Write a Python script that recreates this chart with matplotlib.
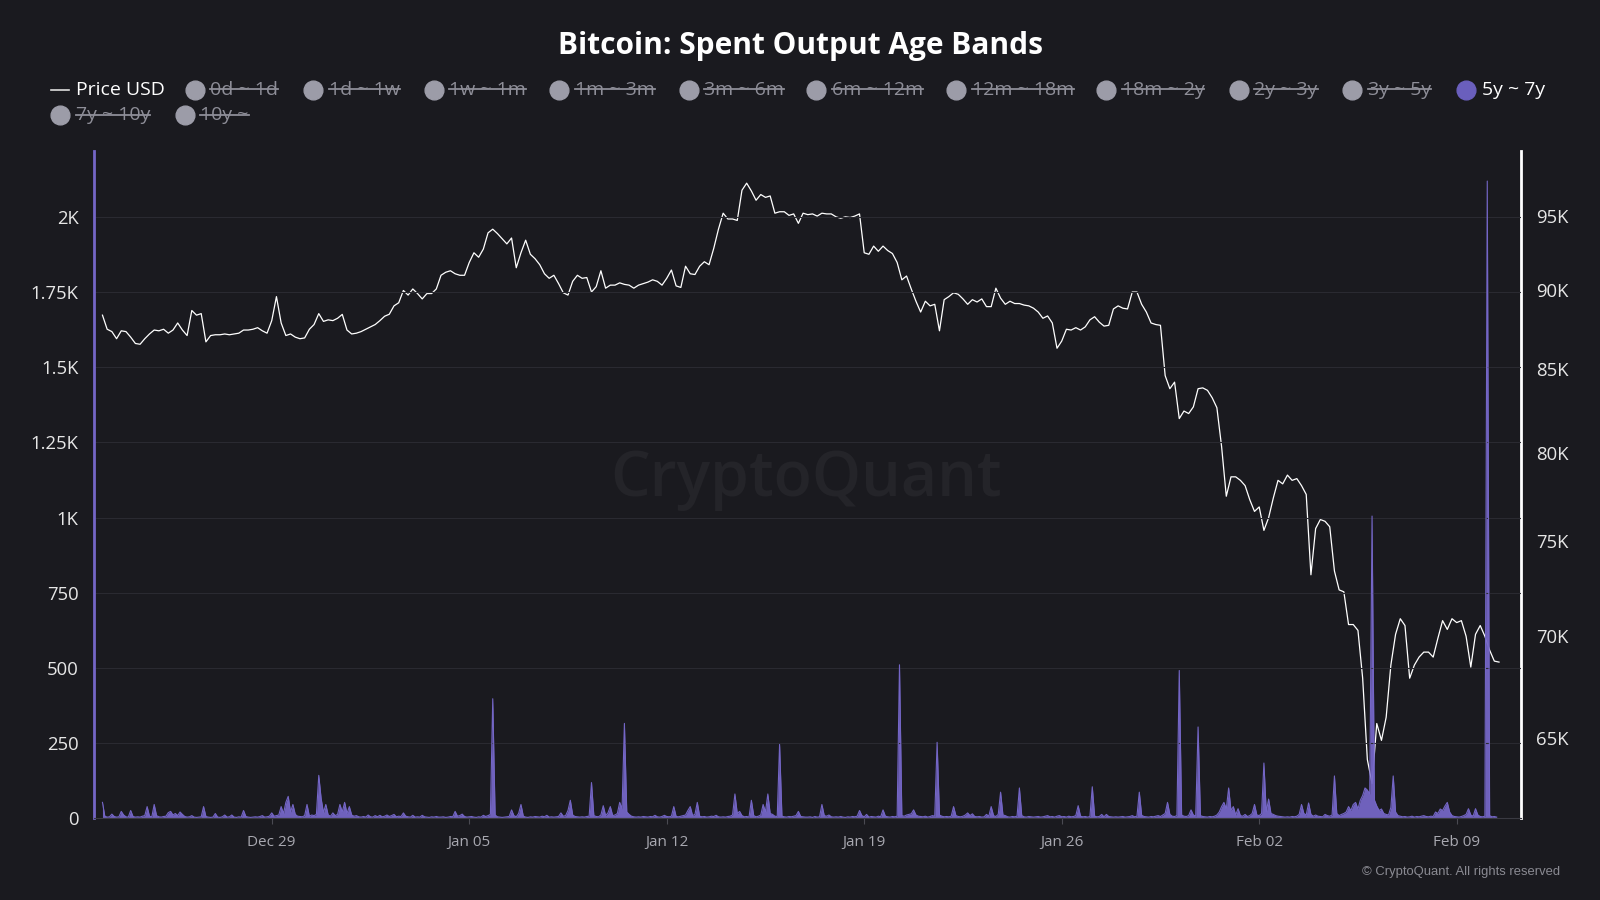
import numpy as np
import pandas as pd
import matplotlib
matplotlib.use('Agg')
import matplotlib.pyplot as plt
import matplotlib.dates as mdates
from matplotlib.lines import Line2D
from matplotlib.ticker import FixedLocator, NullLocator

plt.rcParams['font.family'] = ['Open Sans', 'DejaVu Sans']

# BTC price in thousand USD, one value every 4 hours from 2025-12-23 00:00
price_start = '2025-12-23 00:00'
price_k = [
    88.4, 87.5, 87.35, 86.9, 87.4, 87.35,
    87.0, 86.6, 86.55, 86.9, 87.2, 87.45,
    87.4, 87.5, 87.25, 87.45, 87.9, 87.45,
    87.1, 88.7, 88.4, 88.5, 86.7, 87.1,
    87.15, 87.15, 87.2, 87.15, 87.2, 87.25,
    87.45, 87.45, 87.5, 87.6, 87.4, 87.25,
    88.05, 89.6, 87.9, 87.1, 87.2, 87.0,
    86.9, 86.95, 87.5, 87.8, 88.5, 88.0,
    88.1, 88.05, 88.2, 88.45, 87.45, 87.2,
    87.25, 87.35, 87.5, 87.65, 87.8, 88.05,
    88.33, 88.46, 89.0, 89.2, 90.0, 89.7,
    90.1, 89.8, 89.45, 89.8, 89.8, 90.1,
    91.0, 91.2, 91.3, 91.1, 91.0, 91.0,
    91.85, 92.5, 92.2, 92.75, 93.85, 94.1,
    93.8, 93.45, 93.1, 93.5, 91.5, 92.5,
    93.35, 92.4, 92.1, 91.7, 91.1, 90.8,
    91.0, 90.45, 89.85, 89.7, 90.6, 91.0,
    90.8, 90.85, 89.9, 90.25, 91.3, 90.15,
    90.35, 90.35, 90.5, 90.4, 90.35, 90.15,
    90.35, 90.45, 90.55, 90.7, 90.6, 90.35,
    90.8, 91.35, 90.3, 90.2, 91.6, 91.1,
    91.05, 91.6, 91.9, 91.7, 92.8, 94.1,
    95.2, 94.8, 94.8, 94.7, 96.8, 97.3,
    96.75, 96.1, 96.5, 96.3, 96.4, 95.2,
    95.3, 95.3, 95.05, 95.15, 94.5, 95.2,
    95.1, 95.15, 95.0, 95.2, 95.15, 95.15,
    94.95, 94.85, 94.95, 94.9, 95.0, 95.15,
    92.5, 92.4, 92.95, 92.6, 92.95, 92.65,
    92.45, 91.85, 90.7, 90.95, 90.1, 89.3,
    88.6, 89.3, 89.0, 89.1, 87.4, 89.4,
    89.6, 89.85, 89.75, 89.45, 89.1, 89.4,
    89.25, 89.45, 88.95, 88.95, 90.15, 89.5,
    89.1, 89.3, 89.15, 89.15, 89.05, 89.0,
    88.85, 88.6, 88.2, 88.35, 87.9, 86.3,
    86.75, 87.5, 87.45, 87.6, 87.45, 87.65,
    88.1, 88.3, 87.95, 87.7, 87.75, 88.8,
    89.0, 88.85, 88.8, 89.9, 89.9, 89.1,
    88.6, 87.9, 87.8, 87.75, 84.6, 83.8,
    84.2, 82.0, 82.45, 82.3, 82.7, 83.8,
    83.85, 83.7, 83.25, 82.65, 80.35, 77.5,
    78.6, 78.6, 78.4, 78.1, 77.3, 76.65,
    76.9, 75.6, 76.3, 77.4, 78.4, 78.2,
    78.7, 78.4, 78.5, 78.1, 77.6, 73.2,
    75.7, 76.2, 76.1, 75.8, 73.4, 72.4,
    72.3, 70.6, 70.6, 70.3, 67.9, 64.0,
    62.9, 65.7, 64.9, 66.0, 68.55, 70.1,
    70.9, 70.55, 67.9, 68.55, 68.95, 69.2,
    69.2, 68.95, 69.9, 70.8, 70.35, 70.9,
    70.7, 70.8, 70.0, 68.45, 70.1, 70.55,
    70.0, 69.3, 68.75, 68.7,
]

# spent output 5y ~ 7y (BTC), one value every 2 hours from 2025-12-23 00:00
band_start = '2025-12-23 00:00'
band_5y_7y = [
    52, 6, 3, 4, 13, 5, 3, 4, 22, 10, 4, 3,
    25, 5, 3, 4, 3, 6, 8, 38, 6, 4, 45, 8,
    4, 3, 5, 6, 18, 22, 10, 15, 8, 20, 12, 5,
    3, 4, 8, 3, 2, 3, 4, 38, 5, 3, 2, 3,
    15, 3, 2, 4, 10, 3, 4, 10, 3, 2, 4, 3,
    25, 5, 3, 2, 3, 4, 3, 5, 8, 3, 4, 6,
    17, 6, 8, 10, 38, 15, 52, 72, 20, 45, 12, 6,
    5, 4, 8, 45, 6, 10, 8, 12, 142, 65, 18, 45,
    10, 6, 17, 8, 12, 45, 20, 52, 15, 38, 10, 6,
    8, 4, 3, 5, 3, 10, 4, 3, 8, 4, 9, 4,
    6, 10, 5, 8, 12, 4, 6, 5, 17, 6, 4, 3,
    9, 3, 4, 3, 9, 4, 3, 2, 4, 3, 5, 3,
    3, 4, 2, 3, 5, 4, 22, 6, 8, 13, 5, 3,
    4, 5, 3, 2, 4, 3, 9, 5, 8, 12, 397, 10,
    4, 3, 2, 3, 4, 5, 27, 8, 4, 15, 45, 6,
    3, 2, 4, 3, 5, 4, 3, 6, 4, 9, 3, 4,
    3, 4, 5, 17, 6, 8, 25, 59, 10, 5, 4, 3,
    4, 3, 5, 6, 118, 8, 5, 4, 10, 41, 8, 17,
    38, 8, 10, 15, 52, 30, 315, 20, 12, 6, 4, 3,
    4, 3, 5, 4, 3, 5, 4, 9, 4, 3, 5, 9,
    5, 4, 6, 38, 5, 4, 6, 8, 10, 25, 38, 8,
    12, 52, 6, 4, 5, 3, 4, 6, 5, 9, 4, 3,
    4, 3, 5, 6, 10, 80, 15, 22, 8, 4, 5, 3,
    59, 8, 4, 6, 10, 45, 20, 80, 15, 12, 6, 5,
    245, 6, 4, 3, 5, 4, 6, 8, 22, 5, 4, 3,
    3, 4, 2, 5, 3, 4, 45, 8, 6, 10, 4, 3,
    4, 3, 5, 3, 2, 4, 3, 5, 4, 6, 25, 8,
    4, 12, 3, 5, 4, 3, 6, 4, 27, 6, 4, 3,
    5, 4, 6, 510, 8, 6, 10, 12, 14, 27, 10, 6,
    5, 4, 6, 3, 5, 8, 6, 252, 10, 6, 4, 5,
    4, 6, 38, 8, 5, 4, 6, 10, 17, 8, 14, 5,
    4, 5, 3, 4, 12, 6, 38, 8, 5, 12, 86, 10,
    8, 4, 3, 5, 4, 6, 100, 8, 4, 3, 5, 4,
    3, 4, 5, 3, 4, 6, 8, 4, 5, 3, 6, 8,
    4, 5, 3, 6, 4, 5, 8, 41, 6, 4, 5, 3,
    5, 104, 6, 4, 5, 12, 4, 12, 5, 4, 3, 4,
    3, 4, 5, 3, 4, 5, 8, 4, 6, 86, 9, 5,
    4, 3, 5, 4, 6, 8, 5, 10, 15, 52, 12, 6,
    5, 8, 491, 10, 6, 5, 8, 27, 10, 6, 303, 8,
    5, 4, 3, 5, 4, 6, 10, 20, 38, 52, 30, 100,
    25, 38, 10, 31, 8, 6, 12, 5, 8, 15, 45, 10,
    8, 15, 183, 20, 63, 15, 12, 8, 6, 5, 4, 3,
    4, 3, 5, 4, 6, 12, 45, 15, 10, 50, 12, 6,
    10, 6, 5, 4, 12, 8, 6, 10, 140, 15, 8, 12,
    15, 20, 38, 25, 45, 52, 30, 59, 75, 100, 93, 80,
    1005, 60, 40, 25, 30, 15, 12, 10, 35, 140, 20, 8,
    6, 4, 5, 3, 4, 6, 3, 5, 4, 6, 8, 5,
    4, 6, 5, 20, 15, 30, 25, 40, 52, 20, 8, 5,
    4, 3, 5, 8, 12, 31, 10, 6, 31, 10, 5, 4,
    6, 2120, 8, 4, 5, 3,
]

band_names = ['0d ~ 1d', '1d ~ 1w', '1w ~ 1m', '1m ~ 3m', '3m ~ 6m', '6m ~ 12m',
              '12m ~ 18m', '18m ~ 2y', '2y ~ 3y', '3y ~ 5y', '5y ~ 7y', '7y ~ 10y', '10y ~']
active_band = '5y ~ 7y'

left_ticks = [0, 250, 500, 750, 1000, 1250, 1500, 1750, 2000]
left_labels = ['0', '250', '500', '750', '1K', '1.25K', '1.5K', '1.75K', '2K']
right_ticks = [65, 70, 75, 80, 85, 90, 95]
right_labels = ['65K', '70K', '75K', '80K', '85K', '90K', '95K']

BG = '#1a1a1f'
PURPLE = '#7466c6'
GRAY_TXT = '#8e8e98'

price_t = pd.date_range(price_start, periods=len(price_k), freq='4h')
band_t = pd.date_range(band_start, periods=len(band_5y_7y), freq='2h')

fig = plt.figure(figsize=(16, 9), dpi=100, facecolor=BG)
ax = fig.add_axes([0.05875, 0.0911, 0.89185, 0.7411])
ax2 = ax.twinx()
ax.set_zorder(2)
ax2.set_zorder(1)
ax.patch.set_visible(False)
ax2.patch.set_visible(False)

ax2.plot(price_t, price_k, color='white', lw=0.9)
ax.fill_between(band_t, band_5y_7y, 0, color=PURPLE, lw=0, alpha=0.95)
ax.plot(band_t, band_5y_7y, color=PURPLE, lw=0.8)

ax.set_xlim(pd.Timestamp('2025-12-22 16:48'), pd.Timestamp('2026-02-11 06:40'))
ax.set_ylim(0, 2220)
ax2.set_yscale('log')
ax2.set_ylim(61.34, 99.6)

ax.yaxis.set_major_locator(FixedLocator(left_ticks))
ax.set_yticklabels(left_labels)
ax2.yaxis.set_major_locator(FixedLocator(right_ticks))
ax2.yaxis.set_minor_locator(NullLocator())
ax2.set_yticklabels(right_labels)

ax.xaxis.set_major_locator(mdates.WeekdayLocator(byweekday=mdates.MO))
ax.xaxis.set_major_formatter(mdates.DateFormatter('%b %d'))

ax.yaxis.grid(True, color='#2a2a31', lw=0.8)
ax.tick_params(axis='y', length=0, pad=11, labelsize=13.3, labelcolor='#e6e6e6')
ax2.tick_params(axis='y', which='both', length=0, pad=11, labelsize=13.3, labelcolor='#e6e6e6')
ax.tick_params(axis='x', length=4, color='#4a4a52', pad=8, labelsize=11, labelcolor='#a8a8b0')

for s in ['top', 'right']:
    ax.spines[s].set_visible(False)
ax.spines['left'].set_color(PURPLE)
ax.spines['left'].set_linewidth(2)
ax.spines['bottom'].set_color('#3a3a42')
ax.spines['bottom'].set_linewidth(0.8)
for s in ['top', 'left', 'bottom']:
    ax2.spines[s].set_visible(False)
ax2.spines['right'].set_color('white')
ax2.spines['right'].set_linewidth(2)

# watermark, title, copyright
fig.text(0.504, 0.467, 'CryptoQuant', fontsize=45, fontweight='semibold', color='#242429',
         ha='center', va='center', zorder=0.5)
fig.text(0.5, 0.949, 'Bitcoin: Spent Output Age Bands', ha='center', va='center',
         fontsize=21.5, fontweight='bold', color='white')
fig.text(0.975, 0.031, '\u00a9 CryptoQuant. All rights reserved', ha='right', va='center',
         fontsize=9.4, color='#8a8a92', family=['Liberation Sans', 'DejaVu Sans'])

# legend drawn by hand
W, H = 1600.0, 900.0
row_y = [1 - 89.8 / H, 1 - 115.3 / H]
fig.add_artist(Line2D([51 / W, 69 / W], [row_y[0], row_y[0]], transform=fig.transFigure,
                      color='#dddddd', lw=1.2))
fig.text(76.5 / W, row_y[0], 'Price USD', ha='left', va='center', fontsize=14, color='white')

circle_x = [194.9, 313.3, 433.7, 559.2, 688.8, 816.3, 956.1, 1106.1, 1238.8, 1352.0,
            1466.3, 60.2, 184.7]
circle_row = [0] * 11 + [1, 1]
renderer = fig.canvas.get_renderer()
inv = fig.transFigure.inverted()
for name, cx, r in zip(band_names, circle_x, circle_row):
    on = name == active_band
    cy = row_y[r]
    fig.add_artist(Line2D([cx / W], [cy], marker='o', markersize=13.5, linestyle='none',
                          color='#6a5fbd' if on else '#9c9ca8', transform=fig.transFigure))
    t = fig.text((cx + 15.5) / W, cy, name, ha='left', va='center', fontsize=14,
                 color='white' if on else GRAY_TXT)
    if not on:
        bb = t.get_window_extent(renderer=renderer)
        ym = bb.y0 + bb.height * 0.52
        (x0, y0), (x1, y1) = inv.transform([(bb.x0, ym), (bb.x1, ym)])
        fig.add_artist(Line2D([x0, x1], [y0, y1], transform=fig.transFigure,
                              color=GRAY_TXT, lw=1.3))

fig.savefig('out.png', dpi=100, facecolor=BG)
